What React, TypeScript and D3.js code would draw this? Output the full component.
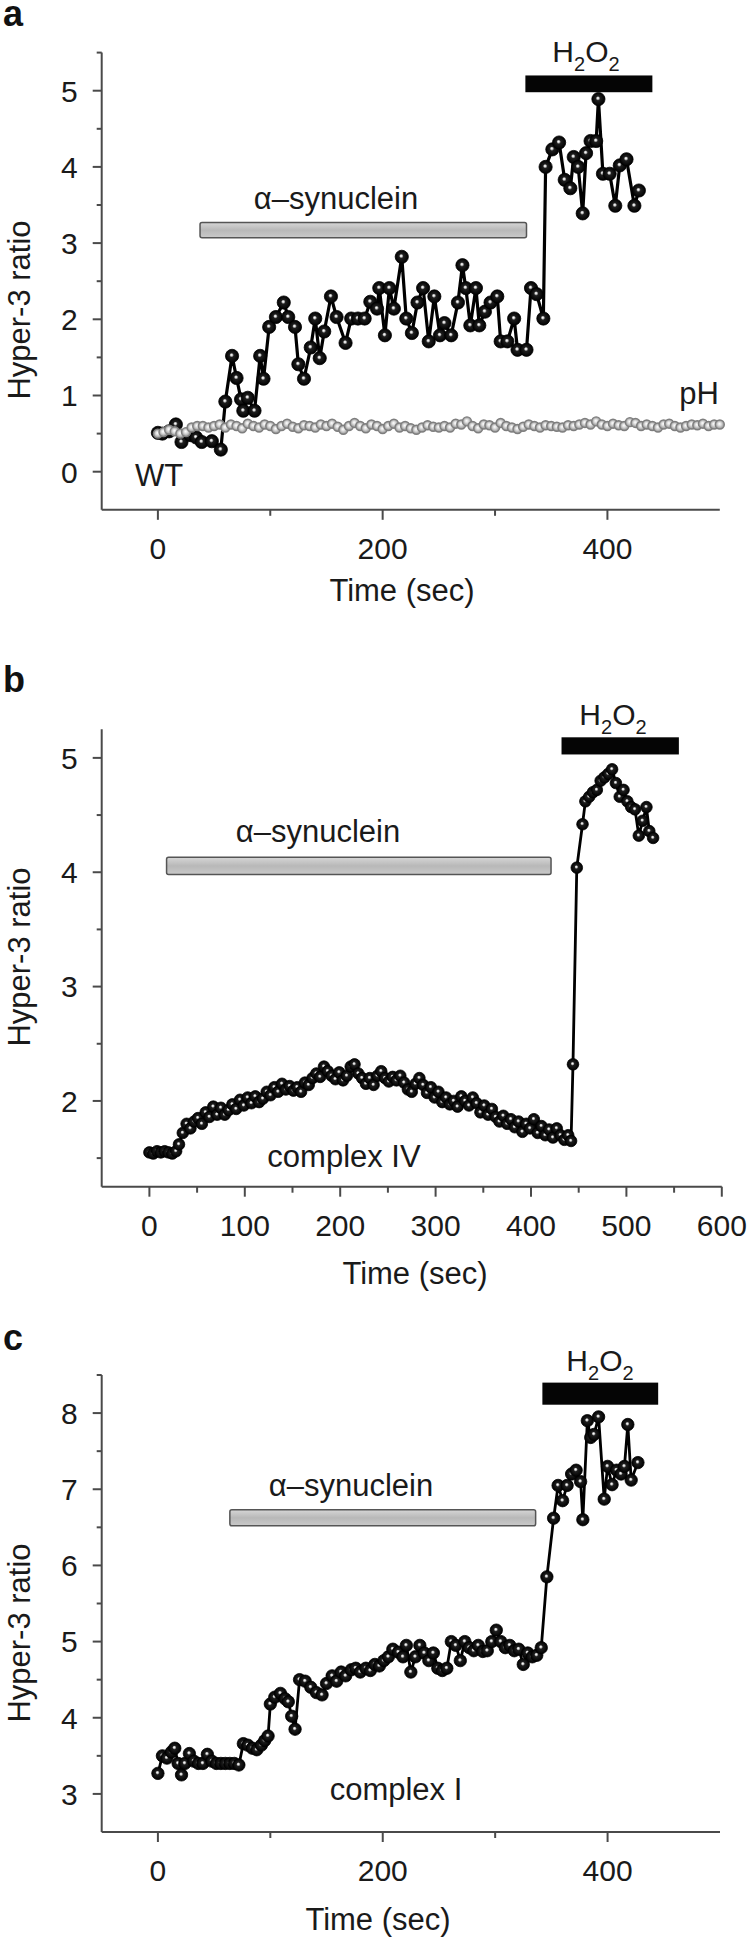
import React, { useEffect } from "react";
import * as d3 from "d3";

const FONT = "'Liberation Sans', Arial, Helvetica, sans-serif";

// ---------- Panel a data ----------
const aTime = [0,4,10,16,21,29,34,39,48,56,60,66,70,74,76,80,86,91,94,99,105,112,116,122,125,130,136,140,144,148,154,159,167,172,178,184,189,195,197,202,206,210,217,221,226,231,236,241,246,251,255,261,267,271,274,278,283,286,291,296,302,305,311,317,320,328,332,337,343,345,351,357,362,367,370,374,378,381,385,390,392,396,402,407,411,417,424,428];
const aRatio = [0.51,0.50,0.53,0.62,0.39,0.48,0.45,0.39,0.40,0.29,0.92,1.52,1.23,0.95,0.80,0.97,0.80,1.52,1.22,1.90,2.03,2.22,2.03,1.90,1.41,1.22,1.63,2.01,1.49,1.84,2.30,2.03,1.69,2.01,2.01,2.01,2.23,2.14,2.41,1.79,2.41,2.14,2.82,2.01,1.82,2.22,2.41,1.71,2.30,1.79,1.95,1.79,2.22,2.71,2.41,1.92,2.41,1.92,2.10,2.22,2.30,1.71,1.71,2.01,1.60,1.60,2.41,2.33,2.01,4.00,4.23,4.32,3.83,3.72,4.13,4.00,3.39,4.18,4.34,4.34,4.89,3.91,3.91,3.49,4.02,4.10,3.49,3.69];
const phTime = d3.range(0, 505, 5);
const phRatio = [
  0.50,0.52,0.55,0.53,0.50,0.52,0.58,0.60,0.60,0.58,
  0.60,0.62,0.58,0.62,0.60,0.57,0.63,0.60,0.58,0.62,
  0.60,0.56,0.60,0.63,0.59,0.57,0.61,0.60,0.58,0.62,
  0.60,0.63,0.59,0.55,0.60,0.64,0.60,0.57,0.62,0.60,
  0.56,0.60,0.63,0.58,0.60,0.57,0.55,0.58,0.61,0.59,
  0.58,0.60,0.58,0.63,0.62,0.66,0.60,0.57,0.62,0.61,
  0.58,0.64,0.60,0.58,0.56,0.59,0.62,0.60,0.58,0.61,
  0.60,0.59,0.58,0.61,0.60,0.62,0.64,0.62,0.66,0.62,
  0.60,0.63,0.61,0.60,0.65,0.64,0.60,0.62,0.60,0.58,
  0.62,0.63,0.60,0.58,0.60,0.62,0.61,0.63,0.60,0.62,0.62];

// ---------- Panel b data ----------
const bTime = [0,4,8,12,16,20,24,28,31,35,39,43,47,51,55,59,63,67,71,75,79,83,87,91,95,99,103,107,111,115,119,123,127,131,135,139,143,147,151,155,159,163,167,171,175,179,183,187,191,195,199,203,207,211,215,219,223,227,231,235,239,243,247,251,255,259,263,267,271,275,279,283,287,291,295,299,303,307,311,315,319,323,327,331,335,339,343,347,351,355,359,363,367,371,375,379,383,387,391,395,399,403,407,411,415,419,423,427,431,435,439,442,444,448,454,457,461,465,469,473,477,481,485,489,493,497,501,505,509,513,517,521,524,528];
const bRatio = [1.55,1.54,1.56,1.55,1.56,1.55,1.54,1.56,1.62,1.72,1.80,1.76,1.82,1.85,1.80,1.90,1.86,1.95,1.88,1.94,1.88,1.92,1.97,1.93,2.01,1.96,2.03,1.98,2.04,1.99,2.02,2.08,2.05,2.12,2.08,2.15,2.10,2.13,2.09,2.12,2.08,2.16,2.14,2.20,2.24,2.21,2.30,2.26,2.22,2.19,2.25,2.18,2.22,2.30,2.32,2.24,2.20,2.15,2.20,2.14,2.22,2.26,2.20,2.17,2.21,2.18,2.22,2.16,2.10,2.08,2.15,2.20,2.14,2.07,2.12,2.03,2.08,1.99,2.03,1.97,2.00,1.95,2.04,2.00,1.96,2.03,1.98,1.90,1.96,1.88,1.93,1.86,1.82,1.87,1.80,1.84,1.77,1.82,1.73,1.80,1.76,1.84,1.72,1.78,1.70,1.75,1.68,1.76,1.70,1.66,1.70,1.65,2.32,4.04,4.42,4.62,4.66,4.70,4.72,4.80,4.83,4.86,4.90,4.78,4.66,4.72,4.62,4.57,4.55,4.32,4.45,4.57,4.36,4.30];

// ---------- Panel c data ----------
const cTime = [0,4,8,12,15,18,21,24,28,32,36,40,44,48,52,56,60,64,68,72,76,80,84,88,92,95,98,100,104,109,113,116,119,122,126,131,136,141,146,150,155,159,163,167,172,176,180,185,189,193,197,201,205,209,214,218,221,225,229,233,237,241,245,249,253,257,261,265,269,273,277,281,285,289,293,297,301,305,309,313,317,321,325,329,333,337,341,346,352,356,360,364,368,372,376,378,382,385,388,392,397,400,404,408,412,415,418,421,427];
const cRatio = [3.27,3.50,3.47,3.55,3.60,3.40,3.25,3.40,3.53,3.43,3.40,3.40,3.52,3.43,3.40,3.40,3.40,3.40,3.40,3.38,3.66,3.64,3.60,3.58,3.64,3.70,3.76,4.18,4.27,4.32,4.25,4.21,4.02,3.85,4.50,4.48,4.40,4.33,4.30,4.45,4.55,4.48,4.60,4.55,4.63,4.65,4.60,4.65,4.62,4.70,4.68,4.75,4.80,4.90,4.86,4.80,4.95,4.60,4.80,4.95,4.85,4.75,4.85,4.65,4.62,4.65,5.00,4.95,4.75,5.00,4.92,4.88,4.95,4.87,4.88,5.00,5.15,5.00,4.92,4.95,4.88,4.90,4.70,4.85,4.80,4.82,4.92,5.85,6.62,7.05,6.85,7.05,7.20,7.25,7.10,6.60,7.90,7.68,7.72,7.95,6.87,7.30,7.06,7.25,7.20,7.30,7.85,7.12,7.35];

// ---------- ticks ----------
const aYMajor = [0, 1, 2, 3, 4, 5];
const aYMinor = [0.5, 1.5, 2.5, 3.5, 4.5, 5.5];
const aXMajor = [0, 200, 400];
const aXMinor = [100, 300];
const bYMajor = [2, 3, 4, 5];
const bYMinor = [1.5, 2.5, 3.5, 4.5];
const bXMajor = [0, 100, 200, 300, 400, 500, 600];
const bXMinor = [50, 150, 250, 350, 450, 550];
const cYMajor = [3, 4, 5, 6, 7, 8];
const cYMinor = [3.5, 4.5, 5.5, 6.5, 7.5, 8.5];
const cXMajor = [0, 200, 400];
const cXMinor = [100, 300];

// treatment bars [start, end, low, high]
const aSyn = [37.5, 328, 3.07, 3.27];
const aH2O2 = [327, 440, 4.98, 5.2];
const bSyn = [18, 421, 3.98, 4.13];
const bH2O2 = [432, 555, 5.03, 5.18];
const cSyn = [64, 336, 6.52, 6.73];
const cH2O2 = [342, 445, 8.11, 8.4];

type Note = [string, number, number, string];
type Cfg = {
  letter: string; letterY: number;
  top: number; bottom: number; left: number; right: number;
  xDomain: number[]; yDomain: number[];
  xMajor: number[]; xMinor: number[]; yMajor: number[]; yMinor: number[];
  time: number[]; ratio: number[]; r: number; lw: number;
  syn: number[]; h2o2: number[];
  synText: [number, number]; h2Text: [number, number];
  notes: Note[]; titleX: number; titleY: number; yTitleY: number;
  ph?: boolean;
};

const T = 30;

function H2O2Label({ x, y }: { x: number; y: number }) {
  return (
    <text x={x} y={y} textAnchor="middle" fontFamily={FONT} fontSize={30} fill="#1a1a1a">
      <tspan>H</tspan>
      <tspan fontSize={20} dy={9}>2</tspan>
      <tspan fontSize={30} dy={-9}>O</tspan>
      <tspan fontSize={20} dy={9}>2</tspan>
    </text>
  );
}

function Panel({ c }: { c: Cfg }) {
  const x = d3.scaleLinear().domain(c.xDomain).range([c.left, c.right]);
  const y = d3.scaleLinear().domain(c.yDomain).range([c.bottom, c.top]);
  const pts = c.time.map((t, i) => [t, c.ratio[i]] as [number, number]);
  const line = d3.line<[number, number]>().x(d => x(d[0])).y(d => y(d[1]));
  const axisColor = "#4a4a4a";
  const phPts = c.ph ? phTime.map((t, i) => [t, phRatio[i]] as [number, number]) : [];
  return (
    <g>
      <text x={3} y={c.letterY} fontFamily={FONT} fontWeight="bold" fontSize={36} fill="#111">{c.letter}</text>
      {/* axes */}
      <line x1={c.left} x2={c.left} y1={c.top} y2={c.bottom} stroke={axisColor} strokeWidth={2} />
      <line x1={c.left} x2={c.right} y1={c.bottom} y2={c.bottom} stroke={axisColor} strokeWidth={2} />
      {c.yMajor.map(v => (
        <g key={"ym" + v}>
          <line x1={c.left - 9} x2={c.left} y1={y(v)} y2={y(v)} stroke={axisColor} strokeWidth={2} />
          <text x={c.left - 24} y={y(v)} dy="0.36em" textAnchor="end" fontFamily={FONT} fontSize={T} fill="#1a1a1a">{v}</text>
        </g>
      ))}
      {c.yMinor.map(v => (
        <line key={"yn" + v} x1={c.left - 5} x2={c.left} y1={y(v)} y2={y(v)} stroke={axisColor} strokeWidth={2} />
      ))}
      {c.xMajor.map(v => (
        <g key={"xm" + v}>
          <line x1={x(v)} x2={x(v)} y1={c.bottom} y2={c.bottom + 10} stroke={axisColor} strokeWidth={2} />
          <text x={x(v)} y={c.bottom + 49} textAnchor="middle" fontFamily={FONT} fontSize={T} fill="#1a1a1a">{v}</text>
        </g>
      ))}
      {c.xMinor.map(v => (
        <line key={"xn" + v} x1={x(v)} x2={x(v)} y1={c.bottom} y2={c.bottom + 6} stroke={axisColor} strokeWidth={2} />
      ))}
      {/* axis titles */}
      <text x={c.titleX} y={c.titleY} textAnchor="middle" fontFamily={FONT} fontSize={31} fill="#1a1a1a">Time (sec)</text>
      <text transform={`translate(30,${c.yTitleY}) rotate(-90)`} textAnchor="middle" fontFamily={FONT} fontSize={31} fill="#1a1a1a">Hyper-3 ratio</text>
      {/* treatment bars */}
      <rect x={x(c.syn[0])} y={y(c.syn[3])} width={x(c.syn[1]) - x(c.syn[0])} height={y(c.syn[2]) - y(c.syn[3])}
        fill="url(#synGrad)" stroke="#555" strokeWidth={1.5} rx={2} />
      <text x={c.synText[0]} y={c.synText[1]} textAnchor="middle" fontFamily={FONT} fontSize={31} fill="#1a1a1a">α–synuclein</text>
      <rect x={x(c.h2o2[0])} y={y(c.h2o2[3])} width={x(c.h2o2[1]) - x(c.h2o2[0])} height={y(c.h2o2[2]) - y(c.h2o2[3])}
        fill="#050505" />
      <H2O2Label x={c.h2Text[0]} y={c.h2Text[1]} />
      {c.notes.map(n => (
        <text key={n[0]} x={n[1]} y={n[2]} textAnchor={n[3] as any} fontFamily={FONT} fontSize={31} fill="#1a1a1a">{n[0]}</text>
      ))}
      {/* data */}
      <path d={line(pts) || ""} fill="none" stroke="#000" strokeWidth={c.lw} strokeLinejoin="round" />
      {pts.map((p, i) => (
        <circle key={"p" + i} cx={x(p[0])} cy={y(p[1])} r={c.r} fill="url(#sphere)" stroke="#000" strokeWidth={0.8} />
      ))}
      {phPts.map((p, i) => (
        <circle key={"ph" + i} cx={x(p[0])} cy={y(p[1])} r={4.5} fill="url(#graySphere)" stroke="#7e7e7e" strokeWidth={1.4} />
      ))}
    </g>
  );
}

const panels: Cfg[] = [
  {
    letter: "a", letterY: 26, top: 52.6, bottom: 509.8, left: 101.7, right: 719.8,
    xDomain: [-50, 500], yDomain: [-0.5, 5.5],
    xMajor: aXMajor, xMinor: aXMinor, yMajor: aYMajor, yMinor: aYMinor,
    time: aTime, ratio: aRatio, r: 6.6, lw: 3.2,
    syn: aSyn, h2o2: aH2O2, synText: [336, 209], h2Text: [586, 62],
    notes: [["WT", 135, 486, "start"], ["pH", 719, 404, "end"]],
    titleX: 402, titleY: 601, yTitleY: 310, ph: true,
  },
  {
    letter: "b", letterY: 692, top: 729.3, bottom: 1186.7, left: 101.7, right: 721.8,
    xDomain: [-50, 600], yDomain: [1.25, 5.25],
    xMajor: bXMajor, xMinor: bXMinor, yMajor: bYMajor, yMinor: bYMinor,
    time: bTime, ratio: bRatio, r: 5.8, lw: 2.8,
    syn: bSyn, h2o2: bH2O2, synText: [318, 842], h2Text: [613, 725],
    notes: [["complex IV", 344, 1167, "middle"]], titleX: 415, titleY: 1284, yTitleY: 957,
  },
  {
    letter: "c", letterY: 1350, top: 1375, bottom: 1832, left: 101.7, right: 720,
    xDomain: [-50, 500], yDomain: [2.5, 8.5],
    xMajor: cXMajor, xMinor: cXMinor, yMajor: cYMajor, yMinor: cYMinor,
    time: cTime, ratio: cRatio, r: 6.2, lw: 2.8,
    syn: cSyn, h2o2: cH2O2, synText: [351, 1496], h2Text: [600, 1371],
    notes: [["complex I", 396, 1800, "middle"]], titleX: 378, titleY: 1930, yTitleY: 1633,
  },
];

export default function App() {
  useEffect(() => {
    document.body.style.margin = "0";
  }, []);
  return (
    <svg width={749} height={1939} viewBox="0 0 749 1939"
      style={{ position: "absolute", left: 0, top: 0, display: "block", background: "#fff" }}>
      <defs>
        <radialGradient id="sphere" cx="50%" cy="50%" r="50%" fx="45%" fy="42%">
          <stop offset="0%" stopColor="#ffffff" />
          <stop offset="14%" stopColor="#d8d8d8" />
          <stop offset="34%" stopColor="#1e1e1e" />
          <stop offset="100%" stopColor="#000000" />
        </radialGradient>
        <radialGradient id="graySphere" cx="50%" cy="50%" r="50%" fx="45%" fy="42%">
          <stop offset="0%" stopColor="#ffffff" />
          <stop offset="40%" stopColor="#dcdcdc" />
          <stop offset="100%" stopColor="#8e8e8e" />
        </radialGradient>
        <linearGradient id="synGrad" x1="0" y1="0" x2="0" y2="1">
          <stop offset="0%" stopColor="#d6d6d6" />
          <stop offset="50%" stopColor="#b8b8b8" />
          <stop offset="100%" stopColor="#c9c9c9" />
        </linearGradient>
      </defs>
      <rect x={0} y={0} width={749} height={1939} fill="#fff" />
      {panels.map(p => <Panel key={p.letter} c={p} />)}
    </svg>
  );
}
